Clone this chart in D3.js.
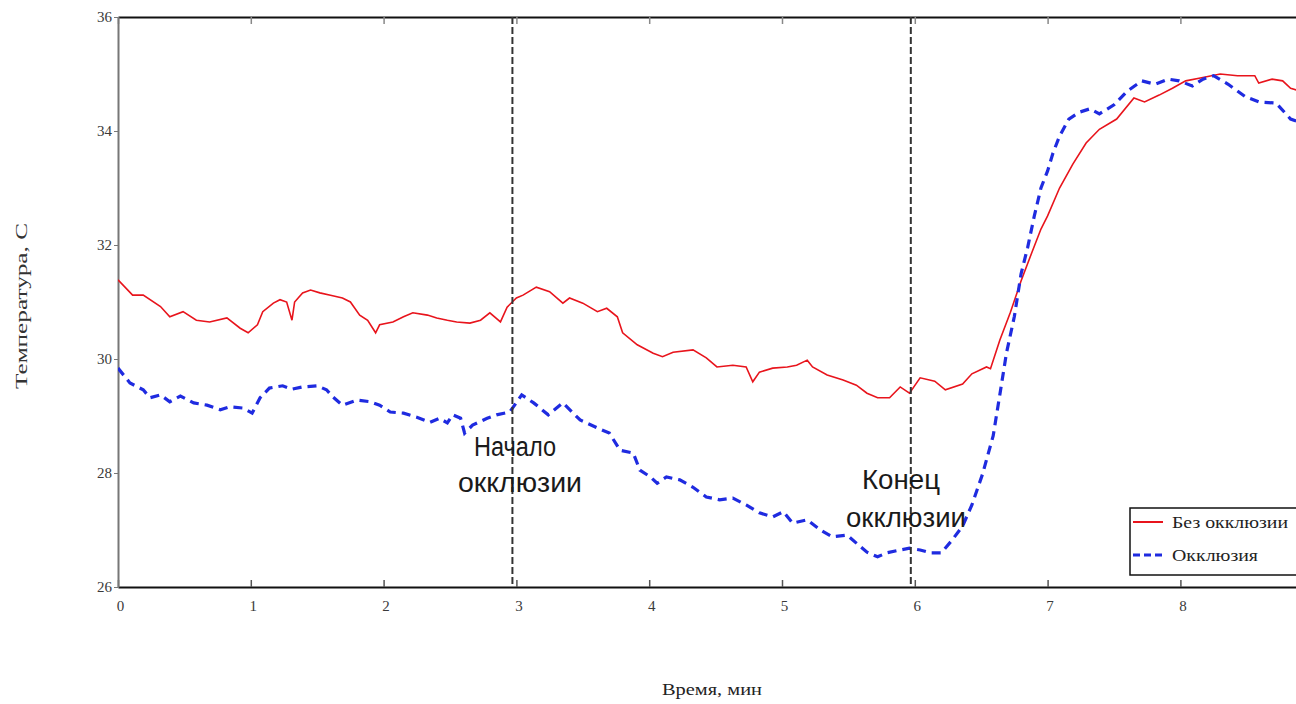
<!DOCTYPE html>
<html>
<head>
<meta charset="utf-8">
<script src="https://cdn.jsdelivr.net/npm/d3@7"></script>
<style>
  body { margin: 0; background: #fff; }
  svg { display: block; }
</style>
</head>
<body>
<div class="container"></div>
<script>
// time (min) and temperature (C)
var redT = [0, 0.11, 0.19, 0.32, 0.39, 0.49, 0.59, 0.69, 0.82, 0.92, 0.98, 1.05, 1.09, 1.17, 1.22, 1.27, 1.31, 1.33, 1.39, 1.45, 1.52, 1.60, 1.69, 1.75, 1.82, 1.88, 1.94, 1.97, 2.07, 2.15, 2.22, 2.33, 2.40, 2.48, 2.55, 2.65, 2.73, 2.80, 2.88, 2.93, 3.0, 3.05, 3.15, 3.25, 3.35, 3.40, 3.50, 3.61, 3.68, 3.76, 3.80, 3.91, 4.03, 4.10, 4.18, 4.33, 4.43, 4.51, 4.63, 4.73, 4.78, 4.83, 4.93, 5.04, 5.11, 5.19, 5.23, 5.34, 5.46, 5.56, 5.64, 5.72, 5.81, 5.89, 5.96, 6.04, 6.15, 6.23, 6.36, 6.43, 6.54, 6.57, 6.64, 6.72, 6.80, 6.88, 6.95, 7.0, 7.09, 7.19, 7.29, 7.39, 7.52, 7.65, 7.73, 7.84, 7.94, 8.04, 8.15, 8.30, 8.43, 8.56, 8.59, 8.69, 8.77, 8.83, 8.9];
var redV = [31.39, 31.12, 31.12, 30.92, 30.74, 30.83, 30.68, 30.65, 30.72, 30.54, 30.46, 30.60, 30.83, 30.98, 31.04, 31.0, 30.68, 31.0, 31.16, 31.21, 31.16, 31.12, 31.07, 31.0, 30.77, 30.68, 30.46, 30.6, 30.65, 30.74, 30.81, 30.77, 30.72, 30.68, 30.65, 30.63, 30.68, 30.81, 30.65, 30.91, 31.07, 31.12, 31.26, 31.18, 30.98, 31.07, 30.98, 30.83, 30.89, 30.74, 30.46, 30.25, 30.1, 30.04, 30.12, 30.16, 30.02, 29.86, 29.89, 29.86, 29.6, 29.77, 29.84, 29.86, 29.89, 29.98, 29.86, 29.72, 29.63, 29.54, 29.4, 29.32, 29.32, 29.51, 29.4, 29.67, 29.61, 29.46, 29.56, 29.74, 29.86, 29.83, 30.33, 30.82, 31.37, 31.86, 32.28, 32.51, 33.0, 33.42, 33.79, 34.03, 34.21, 34.58, 34.51, 34.63, 34.75, 34.88, 34.93, 35.0, 34.97, 34.97, 34.84, 34.91, 34.88, 34.75, 34.7];

var blueT = [0, 0.09, 0.19, 0.24, 0.32, 0.39, 0.47, 0.57, 0.67, 0.77, 0.84, 0.94, 1.01, 1.07, 1.14, 1.24, 1.31, 1.39, 1.50, 1.57, 1.62, 1.69, 1.80, 1.90, 1.97, 2.05, 2.15, 2.25, 2.35, 2.42, 2.48, 2.52, 2.58, 2.61, 2.67, 2.78, 2.85, 2.95, 3.04, 3.13, 3.24, 3.35, 3.48, 3.61, 3.70, 3.78, 3.88, 3.93, 4.01, 4.06, 4.13, 4.23, 4.33, 4.43, 4.53, 4.63, 4.73, 4.83, 4.93, 5.01, 5.08, 5.19, 5.29, 5.38, 5.49, 5.56, 5.64, 5.72, 5.79, 5.89, 5.96, 6.04, 6.12, 6.20, 6.28, 6.36, 6.43, 6.51, 6.59, 6.64, 6.69, 6.75, 6.80, 6.85, 6.90, 6.95, 7.0, 7.04, 7.09, 7.16, 7.24, 7.32, 7.39, 7.50, 7.60, 7.71, 7.81, 7.91, 7.99, 8.09, 8.17, 8.25, 8.36, 8.49, 8.59, 8.72, 8.83, 8.9];
var blueV = [29.84, 29.58, 29.46, 29.32, 29.37, 29.25, 29.35, 29.23, 29.19, 29.11, 29.16, 29.14, 29.05, 29.32, 29.49, 29.53, 29.47, 29.51, 29.53, 29.46, 29.33, 29.19, 29.28, 29.25, 29.19, 29.07, 29.05, 28.98, 28.89, 28.96, 28.88, 29.02, 28.96, 28.7, 28.84, 28.96, 29.02, 29.07, 29.37, 29.23, 29.02, 29.23, 28.93, 28.79, 28.70, 28.4, 28.35, 28.05, 27.93, 27.82, 27.93, 27.88, 27.75, 27.58, 27.53, 27.56, 27.44, 27.3, 27.23, 27.32, 27.12, 27.18, 27.0, 26.88, 26.91, 26.77, 26.61, 26.53, 26.6, 26.65, 26.68, 26.65, 26.6, 26.6, 26.82, 27.07, 27.44, 27.98, 28.65, 29.37, 30.1, 30.75, 31.49, 31.96, 32.51, 33.0, 33.3, 33.61, 33.91, 34.21, 34.33, 34.39, 34.3, 34.46, 34.7, 34.88, 34.82, 34.91, 34.88, 34.79, 34.91, 34.97, 34.82, 34.6, 34.51, 34.49, 34.21, 34.15];

var xTicks = [0, 1, 2, 3, 4, 5, 6, 7, 8];
var yTicks = [26, 28, 30, 32, 34, 36];
var markers = [2.97, 5.97];
var seriesNames = ['Без окклюзии', 'Окклюзия'];

var w = 1296, h = 704;
var padLeft = 118, padTop = 17, padBottom = 587;

var svg = d3.select('.container')
  .append('svg')
  .attr('width', w)
  .attr('height', h);

var xScale = d3.scaleLinear().domain([0, 9]).range([padLeft, padLeft + 9 * 132.8]);
var yScale = d3.scaleLinear().domain([26, 36]).range([padBottom, padTop]);

svg.append('clipPath').attr('id', 'plot')
  .append('rect')
  .attr('x', padLeft).attr('y', padTop)
  .attr('width', w - padLeft).attr('height', padBottom - padTop);

/* ===== AXES ===== */

var serif = '"Liberation Serif", "Times New Roman", serif';

var xAxis = d3.axisBottom(xScale).tickValues(xTicks).tickSizeInner(-7).tickSizeOuter(0).tickPadding(13);
var gx = svg.append('g')
  .attr('transform', 'translate(0,' + padBottom + ')')
  .call(xAxis);
gx.select('.domain').attr('stroke', '#111').attr('stroke-width', 2);
gx.selectAll('.tick line').attr('stroke', '#555').attr('stroke-width', 1.5);
gx.selectAll('text').style('font', '15px ' + serif).attr('fill', '#3a3a3a').attr('dx', 2);

var xTop = d3.axisTop(xScale).tickValues(xTicks).tickSizeInner(-7).tickSizeOuter(0).tickFormat('');
var gt = svg.append('g')
  .attr('transform', 'translate(0,' + padTop + ')')
  .call(xTop);
gt.select('.domain').attr('stroke', '#111').attr('stroke-width', 2);
gt.selectAll('.tick line').attr('stroke', '#888').attr('stroke-width', 1.5);

var yAxis = d3.axisLeft(yScale).tickValues(yTicks).tickSizeInner(4).tickSizeOuter(0).tickPadding(2);
var gy = svg.append('g')
  .attr('transform', 'translate(' + padLeft + ',0)')
  .call(yAxis);
gy.select('.domain').attr('stroke', '#777').attr('stroke-width', 2);
gy.selectAll('.tick line').attr('stroke', '#777');
gy.selectAll('text').style('font', '15px ' + serif).attr('fill', '#3a3a3a');

svg.append('text')
  .attr('transform', 'translate(27,306) rotate(-90)')
  .attr('text-anchor', 'middle')
  .style('font', '17px ' + serif)
  .attr('fill', '#333')
  .attr('textLength', 166)
  .attr('lengthAdjust', 'spacingAndGlyphs')
  .text('Температура, С');

svg.append('text')
  .attr('x', 712).attr('y', 695)
  .attr('text-anchor', 'middle')
  .style('font', '17px ' + serif)
  .attr('fill', '#222')
  .attr('textLength', 100)
  .attr('lengthAdjust', 'spacingAndGlyphs')
  .text('Время, мин');

/* ===== LINES ===== */

var plot = svg.append('g').attr('clip-path', 'url(#plot)');

var line = d3.line()
  .x(function(d) { return xScale(d[0]); })
  .y(function(d) { return yScale(d[1]); });

plot.append('path')
  .datum(d3.zip(redT, redV))
  .attr('d', line)
  .attr('fill', 'none')
  .attr('stroke', '#e8141c')
  .attr('stroke-width', 1.6);

plot.append('path')
  .datum(d3.zip(blueT, blueV))
  .attr('d', line)
  .attr('fill', 'none')
  .attr('stroke', '#1f2be0')
  .attr('stroke-width', 3.2)
  .attr('stroke-dasharray', '9,6');

/* ===== MARKERS ===== */

plot.selectAll('.marker')
  .data(markers)
  .enter()
  .append('line')
  .attr('x1', function(d) { return xScale(d); })
  .attr('x2', function(d) { return xScale(d); })
  .attr('y1', padTop)
  .attr('y2', padBottom)
  .attr('stroke', '#333')
  .attr('stroke-width', 2)
  .attr('stroke-dasharray', '7,3');

var sans = '"Liberation Sans", Arial, sans-serif';
var notes = [
  { x: 515, y: 456, t: 'Начало', len: 82 },
  { x: 520, y: 492, t: 'окклюзии', len: 124 },
  { x: 901, y: 489, t: 'Конец', len: 78 },
  { x: 906, y: 527, t: 'окклюзии', len: 120 }
];
svg.selectAll('.note')
  .data(notes)
  .enter()
  .append('text')
  .attr('x', function(d) { return d.x; })
  .attr('y', function(d) { return d.y; })
  .attr('text-anchor', 'middle')
  .style('font', '27px ' + sans)
  .attr('fill', '#1a1a1a')
  .attr('textLength', function(d) { return d.len; })
  .attr('lengthAdjust', 'spacingAndGlyphs')
  .text(function(d) { return d.t; });

/* ===== LEGEND ===== */

var lg = svg.append('g').attr('transform', 'translate(1130,508)');
lg.append('rect')
  .attr('width', 190).attr('height', 67)
  .attr('fill', '#fff')
  .attr('stroke', '#111')
  .attr('stroke-width', 1.5);

var legendStyles = [
  { color: '#e8141c', width: 2, dash: null, len: 116 },
  { color: '#1f2be0', width: 3.2, dash: '7,4', len: 86 }
];
seriesNames.forEach(function(name, i) {
  var y = 14 + i * 33;
  lg.append('line')
    .attr('x1', 3).attr('x2', 33)
    .attr('y1', y).attr('y2', y)
    .attr('stroke', legendStyles[i].color)
    .attr('stroke-width', legendStyles[i].width)
    .attr('stroke-dasharray', legendStyles[i].dash);
  lg.append('text')
    .attr('x', 42).attr('y', y + 6)
    .style('font', '17px ' + serif)
    .attr('fill', '#222')
    .attr('textLength', legendStyles[i].len)
    .attr('lengthAdjust', 'spacingAndGlyphs')
    .text(name);
});
</script>
</body>
</html>
